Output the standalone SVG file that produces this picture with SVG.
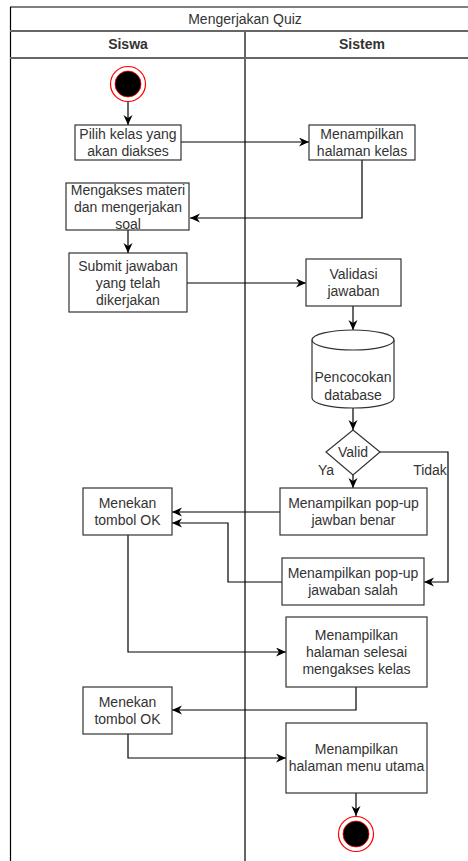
<svg xmlns="http://www.w3.org/2000/svg" width="468" height="861" viewBox="0 0 468 861">
  <style>
    .lbl { font-family: "Liberation Sans", Arial, sans-serif; font-size: 14px; fill: #333333; text-anchor: middle; }
    .hdr { font-family: "Liberation Sans", Arial, sans-serif; font-size: 14px; font-weight: bold; fill: #333333; text-anchor: middle; }
    .box { fill: #ffffff; stroke: #333333; stroke-width: 1.2; }
    .lane { stroke: #666666; stroke-width: 2; fill: none; }
    .edge { fill: none; stroke: #000000; stroke-width: 1.2; marker-end: url(#arrow); }
    .ring { fill: #ffffff; stroke: #ff0000; stroke-width: 1.2; }
    .dot { fill: #000000; stroke: #ff0000; stroke-width: 0.8; }
  </style>
  <defs>
    <marker id="arrow" markerUnits="userSpaceOnUse" markerWidth="11" markerHeight="10" refX="10" refY="4.5" orient="auto">
      <path d="M0,0 L10,4.5 L0,9 L3,4.5 z" fill="#000000"/>
    </marker>
  </defs>

  <rect width="468" height="861" fill="#ffffff"/>

  <!-- swimlane frame -->
  <g id="frame">
    <line x1="10" y1="7" x2="468" y2="7" stroke="#000000" stroke-width="1.2"/>
    <line x1="10.5" y1="7" x2="10.5" y2="861" stroke="#000000" stroke-width="1.2"/>
    <line class="lane" x1="10" y1="31" x2="468" y2="31"/>
    <line class="lane" x1="10" y1="58" x2="468" y2="58"/>
    <line class="lane" x1="245" y1="31" x2="245" y2="861"/>
    <text class="lbl" x="245" y="24">Mengerjakan Quiz</text>
    <text class="hdr" x="128" y="49">Siswa</text>
    <text class="hdr" x="362" y="49">Sistem</text>
  </g>

  <!-- connectors -->
  <g id="connectors">
    <path class="edge" d="M128,102 V125"/>
    <path class="edge" d="M181,142 H309"/>
    <path class="edge" d="M362,160 V218 H190"/>
    <path class="edge" d="M128,230 V253"/>
    <path class="edge" d="M187,283 H306"/>
    <path class="edge" d="M353,306 V330"/>
    <path class="edge" d="M353,408 V430"/>
    <path class="edge" d="M353,475 V488"/>
    <path class="edge" d="M380,452 H448 V582 H424"/>
    <path class="edge" d="M280,512 H172"/>
    <path class="edge" d="M282,582 H228 V523 H172"/>
    <path class="edge" d="M128,535 V652 H286"/>
    <path class="edge" d="M356,687 V710 H172"/>
    <path class="edge" d="M128,734 V758 H286"/>
    <path class="edge" d="M356,793 V816"/>
    <text class="lbl" x="326" y="475">Ya</text>
    <text class="lbl" x="430" y="475">Tidak</text>
  </g>

  <g id="start">
    <circle class="ring" cx="128" cy="84" r="17.5"/>
    <circle class="dot" cx="128" cy="84" r="13"/>
  </g>

  <g id="pilih-kelas">
    <rect class="box" x="75" y="125" width="106" height="35"/>
    <text class="lbl" x="128" y="138.5">Pilih kelas yang</text>
    <text class="lbl" x="128" y="155.5">akan diakses</text>
  </g>

  <g id="halaman-kelas">
    <rect class="box" x="309" y="125" width="106" height="35"/>
    <text class="lbl" x="362" y="138.5">Menampilkan</text>
    <text class="lbl" x="362" y="155.5">halaman kelas</text>
  </g>

  <g id="mengakses-materi">
    <rect class="box" x="66" y="183" width="123" height="47"/>
    <text class="lbl" x="128" y="195">Mengakses materi</text>
    <text class="lbl" x="128" y="212">dan mengerjakan</text>
    <text class="lbl" x="128" y="229">soal</text>
  </g>

  <g id="submit-jawaban">
    <rect class="box" x="69" y="253" width="118" height="59"/>
    <text class="lbl" x="128" y="270.5">Submit jawaban</text>
    <text class="lbl" x="128" y="287.5">yang telah</text>
    <text class="lbl" x="128" y="304.5">dikerjakan</text>
  </g>

  <g id="validasi">
    <rect class="box" x="306" y="259" width="95" height="47"/>
    <text class="lbl" x="353.5" y="279">Validasi</text>
    <text class="lbl" x="353.5" y="296">jawaban</text>
  </g>

  <g id="database">
    <path class="box" d="M312,340 A41,10 0 0 1 394,340 V398 A41,10 0 0 1 312,398 Z"/>
    <path d="M312,340 A41,10 0 0 0 394,340" fill="none" stroke="#333333" stroke-width="1.2"/>
    <text class="lbl" x="353" y="382">Pencocokan</text>
    <text class="lbl" x="353" y="400">database</text>
  </g>

  <g id="valid">
    <path class="box" d="M353,430 L380,452 L353,475 L326,452 Z"/>
    <text class="lbl" x="353" y="457">Valid</text>
  </g>

  <g id="popup-benar">
    <rect class="box" x="280" y="488" width="147" height="47"/>
    <text class="lbl" x="353.5" y="508">Menampilkan pop-up</text>
    <text class="lbl" x="353.5" y="525">jawban benar</text>
  </g>

  <g id="tombol-ok-1">
    <rect class="box" x="83" y="488" width="89" height="47"/>
    <text class="lbl" x="127.5" y="508">Menekan</text>
    <text class="lbl" x="127.5" y="525">tombol OK</text>
  </g>

  <g id="popup-salah">
    <rect class="box" x="282" y="558" width="142" height="47"/>
    <text class="lbl" x="353" y="578">Menampilkan pop-up</text>
    <text class="lbl" x="353" y="595">jawaban salah</text>
  </g>

  <g id="halaman-selesai">
    <rect class="box" x="286" y="617" width="141" height="70"/>
    <text class="lbl" x="356.5" y="640">Menampilkan</text>
    <text class="lbl" x="356.5" y="657">halaman selesai</text>
    <text class="lbl" x="356.5" y="674">mengakses kelas</text>
  </g>

  <g id="tombol-ok-2">
    <rect class="box" x="83" y="687" width="89" height="47"/>
    <text class="lbl" x="127.5" y="707">Menekan</text>
    <text class="lbl" x="127.5" y="724">tombol OK</text>
  </g>

  <g id="menu-utama">
    <rect class="box" x="286" y="723" width="141" height="70"/>
    <text class="lbl" x="356.5" y="754">Menampilkan</text>
    <text class="lbl" x="356.5" y="771">halaman menu utama</text>
  </g>

  <g id="end">
    <circle class="ring" cx="356" cy="834" r="17.5"/>
    <circle class="dot" cx="356" cy="834" r="13"/>
  </g>
</svg>
